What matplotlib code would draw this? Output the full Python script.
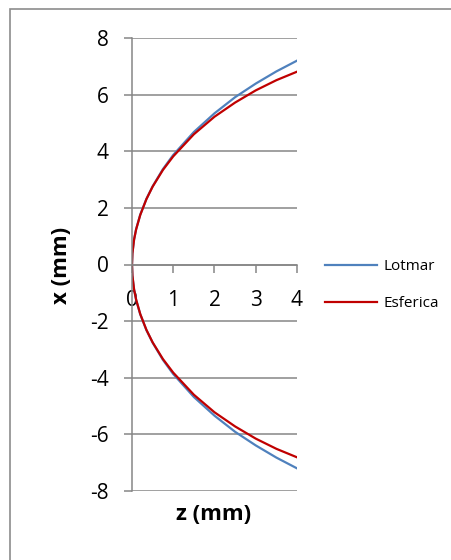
import matplotlib
matplotlib.use("Agg")
import matplotlib.pyplot as plt
from matplotlib.patches import Rectangle

plt.rcParams['font.family'] = ['Open Sans', 'DejaVu Sans']

# profile data (z vs x, mm)
z_lotmar = [4.0, 3.5, 3.0, 2.5, 2.0, 1.5, 1.0, 0.75, 0.5, 0.35, 0.2, 0.1, 0.05, 0.01, 0.0,
            0.01, 0.05, 0.1, 0.2, 0.35, 0.5, 0.75, 1.0, 1.5, 2.0, 2.5, 3.0, 3.5, 4.0]
x_lotmar = [-7.20, -6.82, -6.39, -5.91, -5.34, -4.68, -3.87, -3.37, -2.76, -2.32, -1.76, -1.25, -0.88, -0.40, 0.0,
            0.40, 0.88, 1.25, 1.76, 2.32, 2.76, 3.37, 3.87, 4.68, 5.34, 5.91, 6.39, 6.82, 7.20]
z_esf = [4.0, 3.5, 3.0, 2.5, 2.0, 1.5, 1.0, 0.75, 0.5, 0.35, 0.2, 0.1, 0.05, 0.01, 0.0,
         0.01, 0.05, 0.1, 0.2, 0.35, 0.5, 0.75, 1.0, 1.5, 2.0, 2.5, 3.0, 3.5, 4.0]
x_esf = [-6.81, -6.51, -6.15, -5.72, -5.22, -4.60, -3.82, -3.34, -2.75, -2.31, -1.75, -1.24, -0.88, -0.39, 0.0,
         0.39, 0.88, 1.24, 1.75, 2.31, 2.75, 3.34, 3.82, 4.60, 5.22, 5.72, 6.15, 6.51, 6.81]

xticks = [0, 1, 2, 3, 4]
yticks = [-8, -6, -4, -2, 0, 2, 4, 6, 8]
grid_c = '#868686'

fig = plt.figure(figsize=(4.52, 5.6), dpi=100)
ax = fig.add_axes([132/452, 1 - 491/560, 165/452, 453/560])

ax.plot(z_lotmar, x_lotmar, color='#4F81BD', lw=1.6, label='Lotmar')
ax.plot(z_esf, x_esf, color='#C00000', lw=1.6, label='Esferica')

ax.set_xlim(0, 4)
ax.set_ylim(-8, 8)
ax.set_xticks(xticks)
ax.set_yticks(yticks)
ax.set_yticklabels([str(t) for t in yticks])
ax.grid(axis='y', color=grid_c, lw=1.1)
ax.set_axisbelow(True)

for s in ['top', 'right']:
    ax.spines[s].set_visible(False)
ax.spines['bottom'].set_position(('data', 0))
ax.spines['bottom'].set_color(grid_c)
ax.spines['left'].set_color(grid_c)
ax.spines['bottom'].set_linewidth(1.1)
ax.spines['left'].set_linewidth(1.1)

ax.tick_params(axis='x', direction='out', length=6, width=1.1, color=grid_c, pad=12, labelsize=15)
ax.tick_params(axis='y', direction='out', length=6, width=1.1, color=grid_c, pad=11, labelsize=15)

fig.text(62/452, 1 - 265/560, 'x (mm)', rotation=90, fontsize=16, fontweight='bold',
         ha='center', va='center')
fig.text(214/452, 1 - 515/560, 'z (mm)', fontsize=16, fontweight='bold',
         ha='center', va='center')

fig.legend(loc='center left', bbox_to_anchor=(325/452, 1 - 285/560), frameon=False,
           fontsize=11, handlelength=3.4, handletextpad=0.4, labelspacing=1.45,
           borderpad=0, borderaxespad=0)

fig.patches.append(Rectangle((10/452, -0.1), 1.2, 1 - 9/560 + 0.1, transform=fig.transFigure,
                             fill=False, edgecolor='#8c8c8c', lw=1.2))

fig.savefig('out.png', dpi=100)
